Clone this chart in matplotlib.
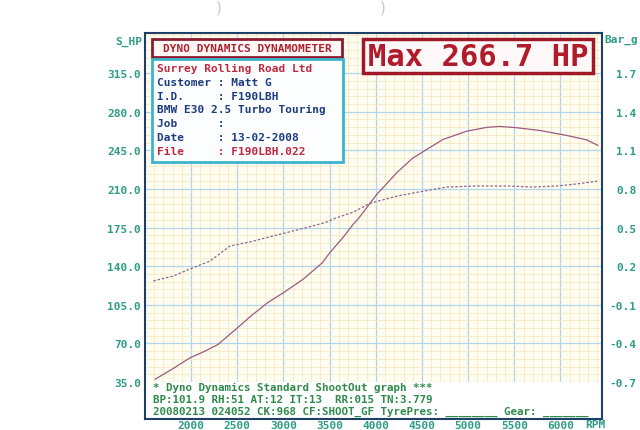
import matplotlib
matplotlib.use('Agg')
import matplotlib.pyplot as plt
import matplotlib.patches as mpatches
from matplotlib.ticker import MultipleLocator, FixedLocator

# power curve (solid, S_HP axis)
power_rpm = [1610, 1800, 1990, 2150, 2290, 2500, 2650, 2830, 3000, 3210, 3420, 3500,
             3645, 3755, 3810, 4010, 4230, 4400, 4555, 4730, 4990, 5200, 5340, 5530,
             5780, 6070, 6285, 6405]
power_hp = [37.5, 47.0, 57.0, 63.0, 69.0, 84.0, 95.0, 107.0, 116.0, 128.0, 143.0, 152.0,
            166.0, 178.0, 183.0, 205.0, 225.0, 238.0, 246.0, 255.0, 262.5, 265.8, 266.7, 265.5,
            263.0, 258.5, 254.5, 249.5]

# boost curve (dashed, Bar_g axis)
boost_rpm = [1590, 1805, 1990, 2205, 2420, 2640, 2890, 3105, 3320, 3470, 3540, 3755,
             3940, 4230, 4445, 4770, 5095, 5420, 5700, 5960, 6175, 6395]
boost_bar = [0.085, 0.123, 0.179, 0.240, 0.357, 0.389, 0.435, 0.474, 0.513, 0.543, 0.567, 0.620,
             0.689, 0.745, 0.774, 0.815, 0.823, 0.823, 0.815, 0.823, 0.839, 0.860]

hp_ticks = [35, 70, 105, 140, 175, 210, 245, 280, 315]
bar_ticks = [-0.7, -0.4, -0.1, 0.2, 0.5, 0.8, 1.1, 1.4, 1.7]
rpm_ticks = [2000, 2500, 3000, 3500, 4000, 4500, 5000, 5500, 6000]

info_lines = [
    ('Surrey Rolling Road Ltd', '#c0283c'),
    ('Customer : Matt G', '#1d3c80'),
    ('I.D.     : F190LBH', '#1d3c80'),
    ('BMW E30 2.5 Turbo Touring', '#1d3c80'),
    ('Job      :', '#1d3c80'),
    ('Date     : 13-02-2008', '#1d3c80'),
    ('File     : F190LBH.022', '#c0283c'),
]
footer_lines = [
    '* Dyno Dynamics Standard ShootOut graph ***',
    'BP:101.9 RH:51 AT:12 IT:13  RR:015 TN:3.779',
    '20080213 024052 CK:968 CF:SHOOT_GF TyrePres: ________ Gear: _______',
]

W, H = 640, 431
MONO = 'DejaVu Sans Mono'
TEAL = '#2f9c86'
GREEN = '#2f8a4c'


def px(x, y):
    return x / W, 1 - y / H


def hp_to_bar(v):
    return (v - 35) / 35 * 0.3 - 0.7


fig = plt.figure(figsize=(6.4, 4.31), dpi=100)
fig.patch.set_facecolor('white')

left, bottom = px(145, 420)
right, top = px(602, 34)
ax = fig.add_axes([left, bottom, right - left, top - bottom])
ax.set_facecolor('#fffcf0')

ylo, yhi = 1.45, 351.4
ax.set_xlim(1500, 6450)
ax.set_ylim(ylo, yhi)

ax.xaxis.set_major_locator(FixedLocator(rpm_ticks))
ax.xaxis.set_minor_locator(MultipleLocator(100))
ax.yaxis.set_major_locator(FixedLocator(hp_ticks))
ax.yaxis.set_minor_locator(MultipleLocator(7))
ax.set_axisbelow(True)
ax.grid(which='minor', color='#f5e9c4', lw=0.6)
ax.grid(which='major', color='#b2d6ec', lw=0.9)
# blank strip under the 35 line for the footer text
ax.axhspan(ylo, 35, color='white', zorder=1)

ax.set_xticklabels([str(r) for r in rpm_ticks])
ax.set_yticklabels(['%.1f' % v for v in hp_ticks])
ax.tick_params(axis='both', which='both', length=0, labelcolor=TEAL, labelsize=8)
ax.tick_params(axis='x', pad=1)
ax.tick_params(axis='y', pad=3)
for lab in ax.get_xticklabels() + ax.get_yticklabels():
    lab.set_family(MONO)
    lab.set_weight('bold')

for sp in ax.spines.values():
    sp.set_color('#1f3f66')
    sp.set_linewidth(1.5)

ax.plot(power_rpm, power_hp, color='#9c5a80', lw=0.9, zorder=3)

ax2 = ax.twinx()
ax2.set_ylim(hp_to_bar(ylo), hp_to_bar(yhi))
ax2.yaxis.set_major_locator(FixedLocator(bar_ticks))
ax2.set_yticklabels(['%.1f' % v for v in bar_ticks])
ax2.tick_params(axis='y', length=0, labelcolor=TEAL, labelsize=8, pad=25)
for lab in ax2.get_yticklabels():
    lab.set_family(MONO)
    lab.set_weight('bold')
    lab.set_horizontalalignment('right')
for sp in ax2.spines.values():
    sp.set_visible(False)
ax2.plot(boost_rpm, boost_bar, color='#8a6690', lw=0.9, ls=(0, (2, 1.5)), zorder=3)

# axis captions
fig.text(*px(142, 42), 'S_HP', ha='right', va='center', color=TEAL, fontsize=8,
         family=MONO, weight='bold')
fig.text(*px(604, 40), 'Bar_g', ha='left', va='center', color=TEAL, fontsize=8,
         family=MONO, weight='bold')
fig.text(*px(595, 425), 'RPM', ha='center', va='center', color=TEAL, fontsize=8,
         family=MONO, weight='bold')


def box(x0, y0, x1, y1, edge, face, lw):
    bx, by = px(x0, y1)
    r = mpatches.Rectangle((bx, by), (x1 - x0) / W, (y1 - y0) / H, transform=fig.transFigure,
                           facecolor=face, edgecolor=edge, lw=lw, zorder=5)
    fig.add_artist(r)


# header boxes
box(152, 40, 342, 58, '#8c1c2c', '#fff6f6', 2)
fig.text(*px(247, 49), 'DYNO DYNAMICS DYNAMOMETER', ha='center', va='center',
         color='#b0202c', fontsize=8, family=MONO, weight='bold', zorder=6)

box(152, 60, 343, 163, '#3cb4cc', '#fbfdff', 2)
for i, (txt, col) in enumerate(info_lines):
    fig.text(*px(157, 69 + i * 13.8), txt, ha='left', va='center', color=col,
             fontsize=8, family=MONO, weight='bold', zorder=6)

box(363, 40, 593, 74, '#a01828', '#fff8f8', 2.5)
fig.text(*px(478, 57), 'Max 266.7 HP', ha='center', va='center', color='#b01c2c',
         fontsize=22, family=MONO, weight='bold', zorder=6)

# footer
for i, txt in enumerate(footer_lines):
    fig.text(*px(153, 388 + i * 12), txt, ha='left', va='center', color=GREEN,
             fontsize=7.8, family=MONO, weight='bold', zorder=6)

# punch-hole marks from the scan
fig.text(*px(219, 8), ')', ha='center', va='center', color='#c8c8c8', fontsize=11)
fig.text(*px(383, 8), ')', ha='center', va='center', color='#c8c8c8', fontsize=11)

fig.savefig('out.png', dpi=100)
